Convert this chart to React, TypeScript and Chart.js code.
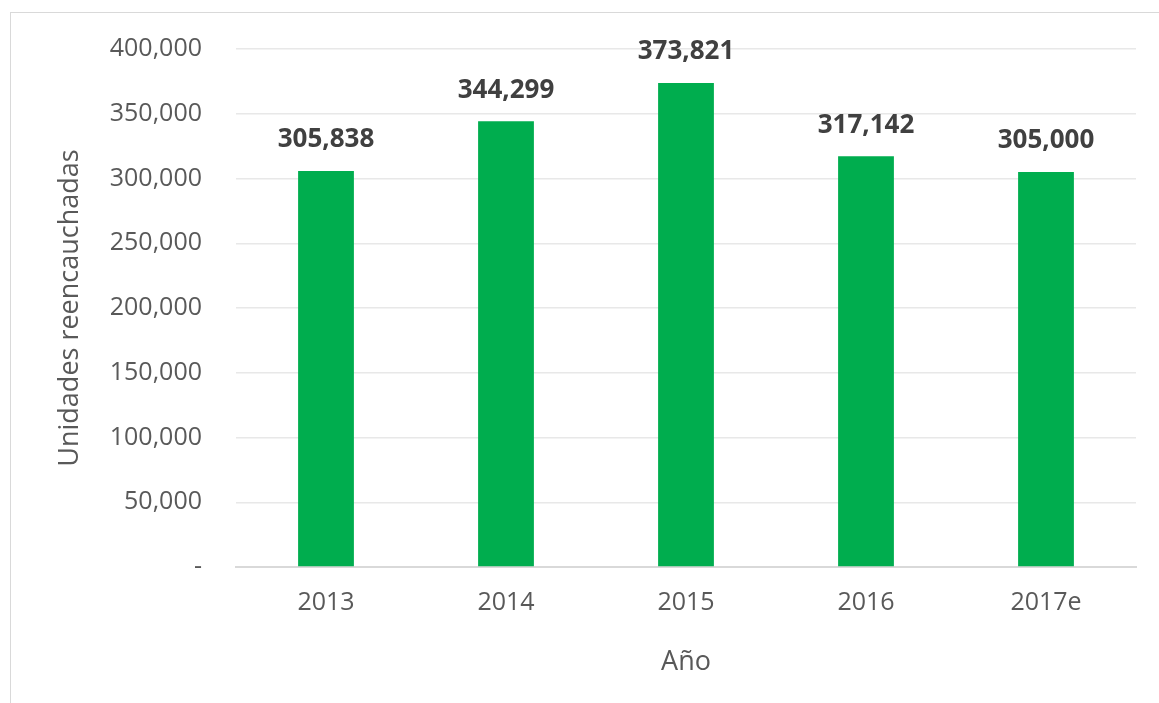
import React, { useEffect, useRef } from "react";
import { Chart, registerables } from "chart.js";

Chart.register(...registerables);

const categories = ["2013", "2014", "2015", "2016", "2017e"];
const values = [305838, 344299, 373821, 317142, 305000];
const yTicks = [0, 50000, 100000, 150000, 200000, 250000, 300000, 350000, 400000];
const yTitle = "Unidades reencauchadas";
const xTitle = "Año";

const FONT = "'Open Sans', 'Noto Sans', sans-serif";

const fmt = (v: number) => (v === 0 ? "-" : v.toLocaleString("en-US"));

const labelPlugin = {
  id: "valueLabels",
  afterDatasetsDraw(chart: any) {
    const ctx = chart.ctx;
    const meta = chart.getDatasetMeta(0);
    ctx.save();
    ctx.font = `bold 26px ${FONT}`;
    ctx.fillStyle = "#404040";
    ctx.textAlign = "center";
    ctx.textBaseline = "middle";
    meta.data.forEach((bar: any, i: number) => {
      ctx.fillText(fmt(values[i]), bar.x, bar.y - 31);
    });
    ctx.restore();
  },
};

export default function App() {
  const ref = useRef<HTMLCanvasElement>(null);
  useEffect(() => {
    if (!ref.current) return;
    const chart = new Chart(ref.current, {
      type: "bar",
      data: {
        labels: categories,
        datasets: [
          {
            data: values,
            backgroundColor: "#00ad4e",
            barPercentage: 0.31,
            categoryPercentage: 1,
          },
        ],
      },
      options: {
        animation: false,
        responsive: false,
        devicePixelRatio: 1,
        layout: { padding: { left: 50, right: 23, top: 48, bottom: 20 } },
        plugins: { legend: { display: false }, tooltip: { enabled: false } },
        scales: {
          x: {
            grid: { display: false, drawTicks: false },
            border: { color: "#d9d9d9", width: 2 },
            ticks: {
              color: "#595959",
              font: { family: FONT, size: 25 },
              padding: 21,
            },
            title: {
              display: true,
              text: xTitle,
              color: "#595959",
              font: { family: FONT, size: 27 },
              padding: { top: 0, bottom: 4 },
            },
            afterFit(scale: any) {
              scale.height = 116;
            },
          },
          y: {
            min: 0,
            max: 400000,
            afterBuildTicks(scale: any) {
              scale.ticks = yTicks.map((v) => ({ value: v }));
            },
            grid: { color: "#e8e8e8", lineWidth: 1.5, drawTicks: false },
            border: { display: false },
            ticks: {
              color: "#595959",
              font: { family: FONT, size: 25 },
              padding: 34,
              callback: (v: any) => fmt(Number(v)),
            },
            title: {
              display: true,
              text: yTitle,
              color: "#595959",
              font: { family: FONT, size: 27 },
              padding: { top: 4, bottom: 0 },
            },
            afterFit(scale: any) {
              scale.width = 186;
            },
          },
        },
      },
      plugins: [labelPlugin],
    });
    return () => chart.destroy();
  }, []);
  return (
    <div
      style={{
        position: "fixed",
        left: 0,
        top: 0,
        width: 1159,
        height: 703,
        background: "#fff",
        overflow: "hidden",
      }}
    >
      <div
        style={{
          position: "absolute",
          left: 10,
          top: 12,
          width: 1170,
          height: 720,
          border: "1.5px solid #d9d9d9",
          boxSizing: "border-box",
        }}
      />
      <canvas
        ref={ref}
        width={1159}
        height={703}
        style={{ position: "absolute", left: 0, top: 0 }}
      />
    </div>
  );
}
